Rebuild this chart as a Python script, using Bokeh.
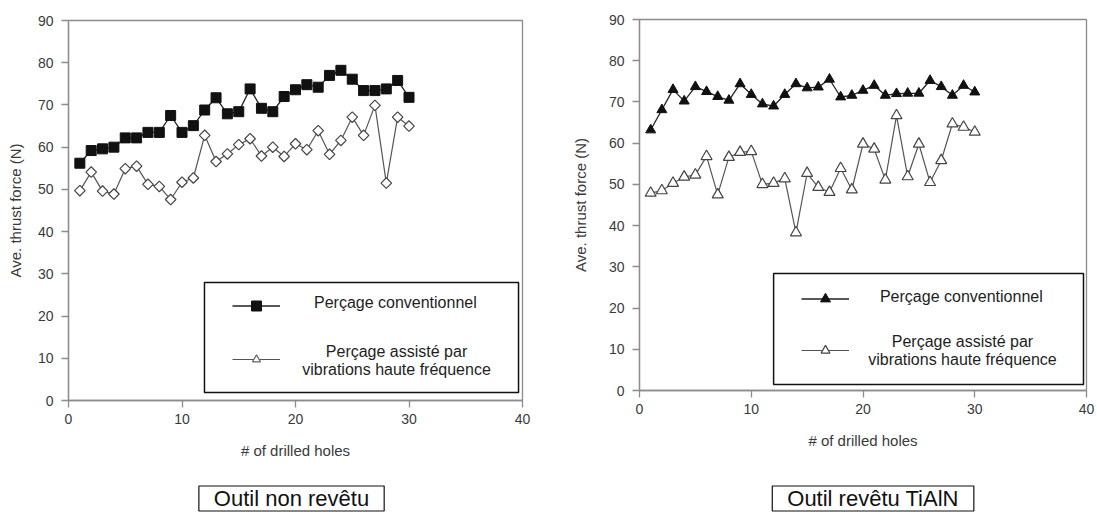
from bokeh.plotting import figure
from bokeh.models import Range1d, FixedTicker, Legend, LegendItem, Label, BoxAnnotation, ColumnDataSource
from bokeh.core.properties import value
from bokeh.layouts import row, column
from bokeh.embed import file_html
from bokeh.resources import INLINE
import numpy as np

# ---------------- data ----------------
holes = list(range(1, 31))
left_conv = [56.2, 59.2, 59.6, 60.0, 62.2, 62.2, 63.5, 63.5, 67.5, 63.5,
             65.1, 68.8, 71.7, 67.9, 68.4, 73.8, 69.2, 68.4, 72.0, 73.6,
             74.8, 74.2, 77.0, 78.2, 76.1, 73.4, 73.4, 73.8, 75.8, 71.8]
left_vib = [49.7, 54.1, 49.6, 48.9, 54.9, 55.5, 51.2, 50.7, 47.6, 51.7,
            52.7, 62.8, 56.6, 58.4, 60.6, 62.0, 57.9, 60.0, 57.8, 60.8,
            59.4, 63.9, 58.3, 61.6, 67.1, 62.8, 69.9, 51.5, 67.1, 65.0]
right_conv = [63.2, 68.1, 73.0, 70.2, 73.7, 72.5, 71.3, 70.4, 74.4, 71.8,
              69.5, 69.0, 71.8, 74.4, 73.4, 73.6, 75.5, 71.2, 71.6, 72.8,
              74.0, 71.6, 72.0, 72.1, 72.1, 75.2, 73.7, 71.6, 74.0, 72.4]
right_vib = [47.9, 48.5, 50.3, 51.8, 52.3, 56.8, 47.5, 56.6, 57.8, 58.0,
             50.0, 50.3, 51.4, 38.3, 52.7, 49.3, 48.1, 53.9, 48.7, 59.8,
             58.6, 51.1, 66.7, 51.9, 59.8, 50.5, 55.8, 64.7, 63.9, 62.7]
x_ticks = [0, 10, 20, 30, 40]
y_ticks = [0, 10, 20, 30, 40, 50, 60, 70, 80, 90]
x_label = "# of drilled holes"
y_label = "Ave. thrust force (N)"
legend_conv = "Perçage conventionnel"
legend_vib = "Perçage assisté par\nvibrations haute fréquence"
caption_left = "Outil non revêtu"
caption_right = "Outil revêtu TiAlN"

FONT = "Liberation Sans"
AXIS_COLOR = "#8c8c8c"
TEXT_COLOR = "#3a3a3a"


def make_fig(w, h, bl, br, bt, bb, ylab_standoff):
    p = figure(width=w, height=h,
               x_range=Range1d(0, 40), y_range=Range1d(0, 90),
               output_backend="svg", toolbar_location=None,
               min_border_left=bl, min_border_right=br,
               min_border_top=bt, min_border_bottom=bb,
               background_fill_color="white", border_fill_color="white")
    p.xgrid.visible = False
    p.ygrid.visible = False
    p.outline_line_color = AXIS_COLOR
    p.outline_line_width = 1.3
    for ax in (p.xaxis[0], p.yaxis[0]):
        ax.axis_line_color = AXIS_COLOR
        ax.axis_line_width = 1.3
        ax.major_tick_line_color = AXIS_COLOR
        ax.major_tick_line_width = 1.3
        ax.minor_tick_line_color = None
        ax.major_tick_in = 0
        ax.major_tick_out = 7
        ax.major_label_text_font = FONT
        ax.major_label_text_font_size = "14px"
        ax.major_label_text_color = TEXT_COLOR
        ax.axis_label_text_font = FONT
        ax.axis_label_text_font_size = "15px"
        ax.axis_label_text_font_style = "normal"
        ax.axis_label_text_color = TEXT_COLOR
    p.xaxis[0].ticker = FixedTicker(ticks=x_ticks)
    p.yaxis[0].ticker = FixedTicker(ticks=y_ticks)
    p.xaxis[0].major_label_standoff = 6
    p.yaxis[0].major_label_standoff = 8
    p.xaxis[0].axis_label = x_label
    p.yaxis[0].axis_label = y_label
    p.xaxis[0].axis_label_standoff = 15
    p.yaxis[0].axis_label_standoff = ylab_standoff
    return p


def legend_entry(p, renderers, x, y, gh):
    leg = Legend(items=[LegendItem(label=value(" "), renderers=renderers)],
                 location=(x, y), orientation="vertical",
                 glyph_width=48, glyph_height=gh, label_height=gh,
                 label_width=0, label_standoff=0, padding=0, margin=0,
                 spacing=0, border_line_alpha=0, background_fill_alpha=0,
                 label_text_font_size="8px")
    p.add_layout(leg)


def legend_text(p, x, y, text):
    p.add_layout(Label(x=x, y=y, text=text, text_align="center",
                       text_baseline="middle", text_font=FONT,
                       text_font_size="16px", text_color="#1e1e1e",
                       text_line_height=1.05))


def legend_box(p, left, right, bottom, top):
    p.add_layout(BoxAnnotation(left=left, right=right, bottom=bottom, top=top,
                               fill_color="white", fill_alpha=1.0,
                               line_color="#111111", line_alpha=1.0,
                               line_width=1.5))


def caption_fig(w, h, bl, br, cx, cy, text):
    c = figure(width=w, height=h, x_range=Range1d(0, 40), y_range=Range1d(0, h),
               output_backend="svg", toolbar_location=None,
               x_axis_type=None, y_axis_type=None,
               min_border_left=bl, min_border_right=br,
               min_border_top=0, min_border_bottom=0,
               background_fill_color="white", border_fill_color="white")
    c.outline_line_color = None
    c.xgrid.visible = False
    c.ygrid.visible = False
    c.add_layout(Label(x=cx, y=cy, text=text, text_align="center",
                       text_baseline="middle", text_font=FONT,
                       text_font_size="22px", text_color="#111111",
                       border_line_color="#111111", border_line_width=1.2,
                       background_fill_color="white",
                       padding=dict(left=15, right=15, top=0, bottom=0)))
    return c


# ---------------- left panel ----------------
src_l = ColumnDataSource(dict(x=holes, conv=left_conv, vib=left_vib))
p1 = make_fig(568, 482, 68, 46, 20, 82, 11)
lc = p1.line("x", "conv", source=src_l, line_color="#222222", line_width=1.3)
lv = p1.line("x", "vib", source=src_l, line_color="#555555", line_width=1.2)
mc = p1.scatter("x", "conv", source=src_l, marker="square", size=10,
                fill_color="#111111", line_color="#111111")
mv = p1.scatter("x", "vib", source=src_l, marker="square", angle=np.pi / 4,
                size=7.5, fill_color="white", line_color="#444444", line_width=1.2)
mleg = p1.scatter("x", "vib", source=src_l, marker="triangle", size=8,
                  fill_color="white", line_color="#666666", line_width=1.2)
mleg.visible = False

legend_box(p1, 11.98, 39.65, 1.9, 27.95)
legend_entry(p1, [lc, mc], 164, 82, 25)
legend_entry(p1, [lv, mleg], 164, 31, 20)
legend_text(p1, 28.8, 23.2, legend_conv)
legend_text(p1, 28.9, 9.5, legend_vib)

# ---------------- right panel ----------------
src_r = ColumnDataSource(dict(x=holes, conv=right_conv, vib=right_vib))
p2 = make_fig(529, 472, 68, 11, 19, 82, 17)
rc = p2.line("x", "conv", source=src_r, line_color="#222222", line_width=1.3)
rv = p2.line("x", "vib", source=src_r, line_color="#555555", line_width=1.2)
rmc = p2.scatter("x", "conv", source=src_r, marker="triangle", size=10,
                 fill_color="#111111", line_color="#111111")
rmv = p2.scatter("x", "vib", source=src_r, marker="triangle", size=11,
                 fill_color="white", line_color="#444444", line_width=1.2)

legend_box(p2, 12.0, 39.73, 1.46, 28.4)
legend_entry(p2, [rc, rmc], 162, 79, 25)
legend_entry(p2, [rv, rmv], 162, 29, 22)
legend_text(p2, 28.8, 22.8, legend_conv)
legend_text(p2, 28.9, 9.7, legend_vib)

# ---------------- captions ----------------
c1 = caption_fig(568, 30, 68, 46, 19.65, 14, caption_left)
c2 = caption_fig(529, 40, 68, 11, 20.9, 14, caption_right)

layout = row(column(p1, c1), column(p2, c2))
open("out.html", "w").write(file_html(layout, INLINE))
